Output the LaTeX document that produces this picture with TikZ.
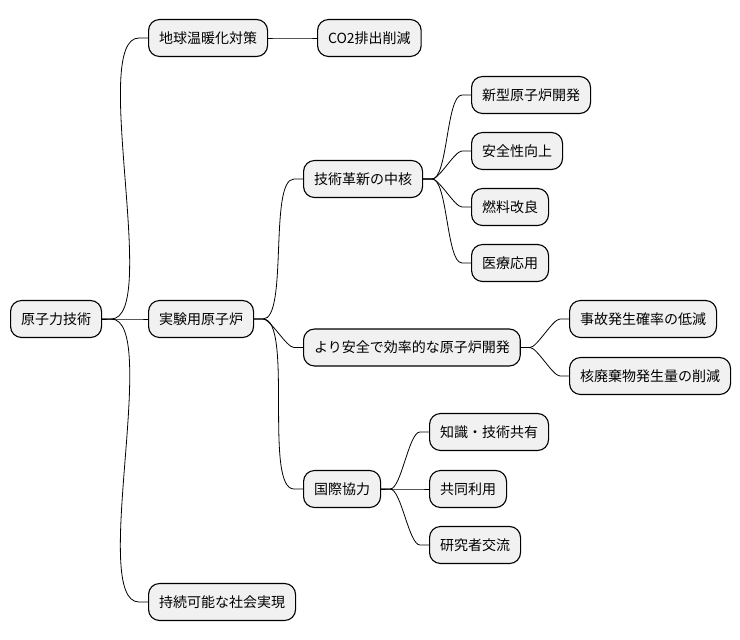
\documentclass[tikz,border=0pt]{standalone}
\usepackage{fontspec}
\setmainfont{Noto Sans CJK JP}
\definecolor{boxgray}{HTML}{F1F1F1}

\tikzset{
  topic/.style={draw, line width=1.1pt, fill=boxgray, rounded corners=11pt,
    minimum height=37pt, inner xsep=10.5pt, anchor=west,
    font=\fontsize{14}{16}\selectfont},
  link/.style={line width=.8pt},
}
\newcommand{\linkto}[2]{\draw[link] (#1.east) -- ++(9,0) to[out=0,in=180,looseness=.45] ([xshift=-9pt]#2.west) -- (#2.west);}

\begin{document}
\begin{tikzpicture}[x=1pt,y=-1pt]
\useasboundingbox (0,0) rectangle (740,640);

\node[topic] (root) at (10,319) {原子力技術};

% first level
\node[topic] (warm) at (148,38) {地球温暖化対策};
\node[topic] (lab) at (148,319) {実験用原子炉};
\node[topic] (sust) at (148,602) {持続可能な社会実現};

\node[topic] (co2) at (317,38) {CO2排出削減};

% second level
\node[topic] (core) at (303,179) {技術革新の中核};
\node[topic] (safe) at (303,347.5) {より安全で効率的な原子炉開発};
\node[topic] (intl) at (303,489) {国際協力};

\node[topic] (newr) at (471,95) {新型原子炉開発};
\node[topic] (secu) at (471,151) {安全性向上};
\node[topic] (fuel) at (471,207) {燃料改良};
\node[topic] (med) at (471,263) {医療応用};

\node[topic] (acc) at (569,319) {事故発生確率の低減};
\node[topic] (waste) at (569,376) {核廃棄物発生量の削減};

\node[topic] (share) at (429,432) {知識・技術共有};
\node[topic] (joint) at (429,489) {共同利用};
\node[topic] (exch) at (429,545) {研究者交流};

\linkto{root}{warm}
\linkto{root}{lab}
\linkto{root}{sust}
\linkto{warm}{co2}

\linkto{lab}{core}
\linkto{lab}{safe}
\linkto{lab}{intl}

\linkto{core}{newr}
\linkto{core}{secu}
\linkto{core}{fuel}
\linkto{core}{med}

\linkto{safe}{acc}
\linkto{safe}{waste}

\linkto{intl}{share}
\linkto{intl}{joint}
\linkto{intl}{exch}
\end{tikzpicture}
\end{document}
